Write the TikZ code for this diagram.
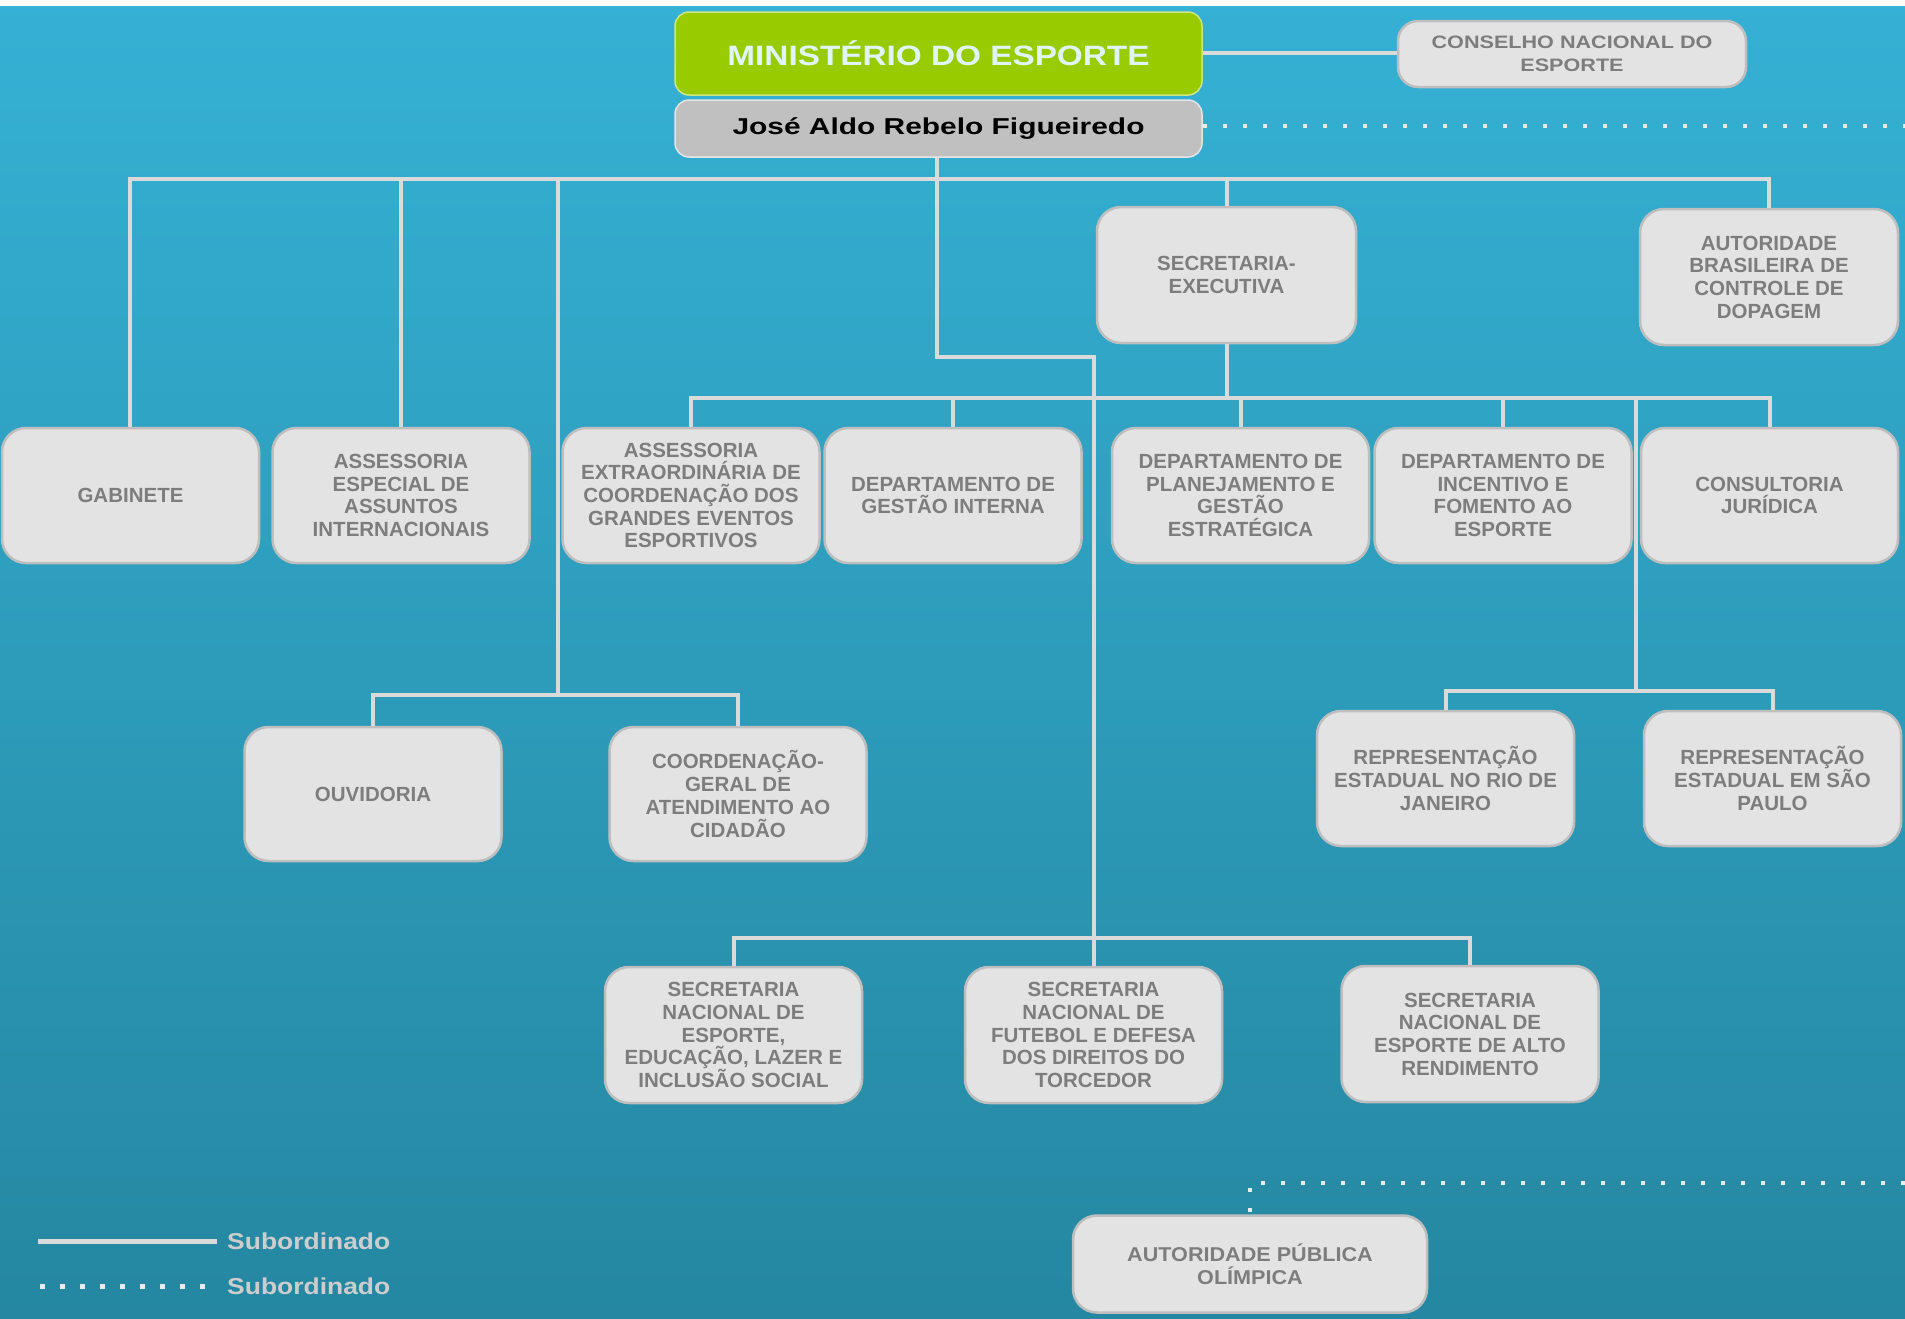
\documentclass[tikz,border=0pt]{standalone}
\usepackage{fontspec}
\setmainfont{Liberation Sans}
\usepackage{graphicx}
\definecolor{bgtop}{RGB}{53,177,213}
\definecolor{bgbot}{RGB}{37,135,161}
\definecolor{boxfill}{RGB}{227,227,227}
\definecolor{boxline}{RGB}{190,190,190}
\definecolor{boxtext}{RGB}{125,125,125}
\definecolor{connc}{RGB}{218,218,218}
\definecolor{mingreen}{RGB}{153,204,0}
\definecolor{mingreenline}{RGB}{205,230,130}
\definecolor{josegrey}{RGB}{192,192,192}
\definecolor{mintext}{RGB}{225,244,252}
\definecolor{legtext}{RGB}{205,205,205}
\definecolor{dotc}{RGB}{232,236,238}
\begin{document}
\begin{tikzpicture}[x=1pt,y=-1pt,
  orgbox/.style={draw=boxline, line width=2.5pt, fill=boxfill, rounded corners=24pt,
    inner sep=0pt, align=center, text=boxtext,
    font=\fontsize{20.5}{22.7}\selectfont\bfseries},
  rowbox/.style={orgbox, minimum width=257pt, minimum height=135pt},
  conn/.style={draw=connc, line width=4pt},
  dotline/.style={draw=dotc, line width=4pt, dash pattern=on 4pt off 16pt},
  legtxt/.style={anchor=west, text=legtext, inner sep=0pt,
    font=\fontsize{23}{25}\selectfont\bfseries},
]
\useasboundingbox (0,0) rectangle (1905,1318);
\shade[top color=bgtop, bottom color=bgbot] (0,0) rectangle (1905,1318);
\fill[white] (0,0) rectangle (1905,6);

% header
\node[draw=mingreenline, line width=1.5pt, fill=mingreen, rounded corners=14pt,
  minimum width=527pt, minimum height=83pt, inner sep=0pt, text=mintext,
  font=\fontsize{28}{30}\selectfont\bfseries] (min) at (938.5,53.5)
  {\scalebox{1.19}[1]{MINISTÉRIO DO ESPORTE}};
\node[draw=white!80!gray, line width=1.5pt, fill=josegrey, rounded corners=14pt,
  minimum width=527pt, minimum height=57pt, inner sep=0pt, text=black,
  font=\fontsize{23}{25}\selectfont\bfseries] (jose) at (938.5,128.5)
  {\scalebox{1.3}[1]{José Aldo Rebelo Figueiredo}};
\node[orgbox, rounded corners=20pt, minimum width=348pt, minimum height=66pt,
  font=\fontsize{18}{23}\selectfont\bfseries] (cne) at (1572,54)
  {\scalebox{1.2}[1]{CONSELHO NACIONAL DO}\\\scalebox{1.2}[1]{ESPORTE}};

% second level
\node[orgbox, minimum width=259pt, minimum height=136pt] (se) at (1226.5,275)
  {SECRETARIA-\\EXECUTIVA};
\node[orgbox, minimum width=258pt, minimum height=136pt] (abcd) at (1769,277)
  {AUTORIDADE\\BRASILEIRA DE\\CONTROLE DE\\DOPAGEM};

% row
\node[rowbox] (gab) at (130.5,495.5) {GABINETE};
\node[rowbox] (aeai) at (401,495.5) {ASSESSORIA\\ESPECIAL DE\\ASSUNTOS\\INTERNACIONAIS};
\node[rowbox] (aex) at (691,495.5) {ASSESSORIA\\EXTRAORDINÁRIA DE\\COORDENAÇÃO DOS\\GRANDES EVENTOS\\ESPORTIVOS};
\node[rowbox] (dgi) at (953,495.5) {DEPARTAMENTO DE\\GESTÃO INTERNA};
\node[rowbox] (dpge) at (1240.5,495.5) {DEPARTAMENTO DE\\PLANEJAMENTO E\\GESTÃO\\ESTRATÉGICA};
\node[rowbox] (dife) at (1503,495.5) {DEPARTAMENTO DE\\INCENTIVO E\\FOMENTO AO\\ESPORTE};
\node[rowbox] (cj) at (1769.5,495.5) {CONSULTORIA\\JURÍDICA};

% third level
\node[rowbox, minimum height=134pt] (ouv) at (373,794) {OUVIDORIA};
\node[rowbox, minimum height=134pt] (coord) at (738,794) {COORDENAÇÃO-\\GERAL DE\\ATENDIMENTO AO\\CIDADÃO};
\node[rowbox] (reprj) at (1445.5,778.5) {REPRESENTAÇÃO\\ESTADUAL NO RIO DE\\JANEIRO};
\node[rowbox] (repsp) at (1772.5,778.5) {REPRESENTAÇÃO\\ESTADUAL EM SÃO\\PAULO};

% secretarias nacionais
\node[rowbox, minimum height=136pt] (sn1) at (733.5,1035) {SECRETARIA\\NACIONAL DE\\ESPORTE,\\EDUCAÇÃO, LAZER E\\INCLUSÃO SOCIAL};
\node[rowbox, minimum height=136pt] (sn2) at (1093.5,1035) {SECRETARIA\\NACIONAL DE\\FUTEBOL E DEFESA\\DOS DIREITOS DO\\TORCEDOR};
\node[rowbox, minimum height=136pt] (sn3) at (1470,1034) {SECRETARIA\\NACIONAL DE\\ESPORTE DE ALTO\\RENDIMENTO};

% APO
\node[orgbox, minimum width=354pt, minimum height=97pt,
  font=\fontsize{20}{23}\selectfont\bfseries] (apo) at (1250,1264)
  {\scalebox{1.08}[1]{AUTORIDADE PÚBLICA}\\\scalebox{1.08}[1]{OLÍMPICA}};

% bus coordinates
\coordinate (b1) at (0,179);
\coordinate (b2) at (0,398);
\coordinate (b3) at (0,691);
\coordinate (b4) at (0,695);
\coordinate (b5) at (0,938);
\coordinate (bmid) at (0,357);
\coordinate (ouvtop) at (558,179);
\coordinate (ouvbot) at (558,695);
\coordinate (reptop) at (1636,398);
\coordinate (repbot) at (1636,691);
\coordinate (dotend1) at (1905,126);
\coordinate (dotend2) at (1905,1183);
\coordinate (dotcorner) at (1250,1183);

% connectors
\draw[conn] (min.east |- 0,53) -- (cne.west |- 0,53);
\draw[conn] (jose.south -| 937,0) -- (937,357) -| (sn2.north);
\draw[conn] (gab.north -| 130,0) -- (130,179) -- (abcd.north |- b1) -- (abcd.north);
\draw[conn] (aeai.north) -- (aeai.north |- b1);
\draw[conn] (se.north) -- (se.north |- b1);
\draw[conn] (ouvtop) -- (ouvbot);
\draw[conn] (se.south) -- (se.south |- b2);
\draw[conn] (aex.north) -- (aex.north |- b2) -- (cj.north |- b2) -- (cj.north);
\draw[conn] (dgi.north) -- (dgi.north |- b2);
\draw[conn] (dpge.north) -- (dpge.north |- b2);
\draw[conn] (dife.north) -- (dife.north |- b2);
\draw[conn] (reptop) -- (repbot);
\draw[conn] (reprj.north) -- (reprj.north |- b3) -- (repsp.north |- b3) -- (repsp.north);
\draw[conn] (ouv.north) -- (ouv.north |- b4) -- (coord.north |- b4) -- (coord.north);
\draw[conn] (sn1.north) -- (sn1.north |- b5) -- (sn3.north |- b5) -- (sn3.north);

\draw[dotline] (jose.east |- dotend1) -- (dotend1);
\draw[dotline] (dotend2) -- (dotcorner) -- (apo.north);

% legend
\coordinate (l1a) at (38,1241);
\coordinate (l1b) at (217,1241);
\coordinate (l2a) at (40,1286);
\coordinate (l2b) at (210,1286);
\draw[conn, line width=5pt] (l1a) -- (l1b);
\draw[dotline, line width=5pt, dash pattern=on 5pt off 15pt] (l2a) -- (l2b);
\node[legtxt] (leg1) at (227,1241) {\scalebox{1.15}[1]{Subordinado}};
\node[legtxt] (leg2) at (227,1286) {\scalebox{1.15}[1]{Subordinado}};
\end{tikzpicture}
\end{document}
